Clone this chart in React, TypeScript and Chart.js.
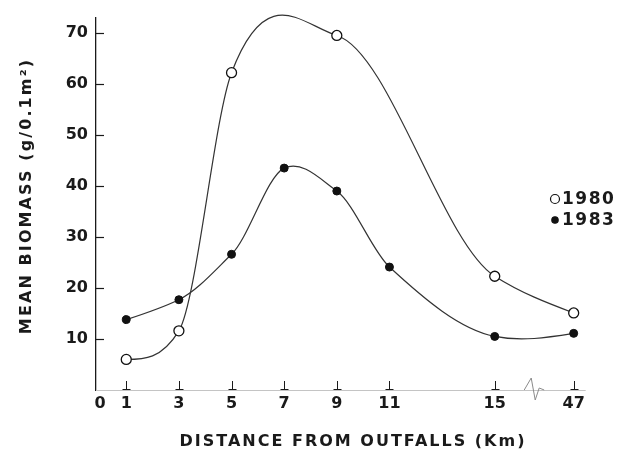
import { useEffect, useRef } from "react";
import { Chart, registerables } from "chart.js";

Chart.register(...registerables);

// ---- data ----
const distances = [1, 3, 5, 7, 9, 11, 15, 47];
const biomass1980: (number | null)[] = [6.0, 11.6, 62.2, null, 69.5, null, 22.3, 15.1];
const biomass1983: (number | null)[] = [13.8, 17.7, 26.6, 43.5, 39.0, 24.1, 10.5, 11.1];
const seriesLabels = ["1980", "1983"];
const xTickDistances = [0, 1, 3, 5, 7, 9, 11, 15, 47];
const yTickValues = [10, 20, 30, 40, 50, 60, 70];
const xTitle = "DISTANCE FROM OUTFALLS (Km)";
const yTitle = "MEAN BIOMASS (g/0.1m²)";

// broken x axis: everything beyond 15 km is drawn at axis position 18
const BREAK_AT = 15;
const BREAK_POS = 18;
const toAxis = (d: number) => (d <= BREAK_AT ? d : BREAK_POS);
const labelFor = (pos: number) => {
  const d = xTickDistances.find((v) => Math.abs(toAxis(v) - pos) < 1e-6);
  return d === undefined ? "" : String(d);
};

const FONT = '"DejaVu Sans", "Liberation Sans", sans-serif';
const INK = "#1a1a1a";
const LINE = "#333333";
const SMOOTH_TENSION = 0.78;

function points(values: (number | null)[]) {
  const out: { x: number; y: number }[] = [];
  values.forEach((v, i) => {
    if (v !== null) out.push({ x: toAxis(distances[i]), y: v });
  });
  return out;
}

// smooth the library's line: cubic Hermite control points along x
// (3-point derivative, overshoot guard against the previous segment, natural ends)
const smoothPlugin = {
  id: "smoothX",
  beforeDatasetsDraw(chart: any) {
    chart.data.datasets.forEach((_ds: any, di: number) => {
      const meta = chart.getDatasetMeta(di);
      const line = meta.dataset;
      if (line && line.updateControlPoints) line.updateControlPoints(chart.chartArea, "x");
      const pts = meta.data;
      const n = pts.length;
      if (n < 3) return;
      const h: number[] = [];
      const d: number[] = [];
      for (let i = 0; i < n - 1; i++) {
        h.push(pts[i + 1].x - pts[i].x);
        d.push((pts[i + 1].y - pts[i].y) / h[i]);
      }
      const m: number[] = new Array(n).fill(0);
      for (let i = 1; i < n - 1; i++) {
        let s = ((h[i] * d[i - 1] + h[i - 1] * d[i]) / (h[i - 1] + h[i])) * SMOOTH_TENSION;
        if (Math.sign(d[i - 1]) === Math.sign(s) && Math.abs(s) > 3 * Math.abs(d[i - 1])) {
          s = 3 * d[i - 1];
        }
        m[i] = s;
      }
      m[0] = (3 * d[0] - m[1]) / 2;
      m[n - 1] = (3 * d[n - 2] - m[n - 2]) / 2;
      for (let i = 0; i < n; i++) {
        const p = pts[i];
        const hPrev = i > 0 ? h[i - 1] : 0;
        const hNext = i < n - 1 ? h[i] : 0;
        p.cp1x = p.x - hPrev / 3;
        p.cp1y = p.y - (m[i] * hPrev) / 3;
        p.cp2x = p.x + hNext / 3;
        p.cp2y = p.y + (m[i] * hNext) / 3;
      }
    });
  },
};

const decorPlugin = {
  id: "decor",
  afterDraw(chart: any) {
    const { ctx, chartArea, scales } = chart;
    const xs = scales.x;
    const ys = scales.y;
    ctx.save();
    // faint x axis line
    ctx.strokeStyle = "#c4c4c4";
    ctx.lineWidth = 1;
    ctx.beginPath();
    ctx.moveTo(chartArea.left, chartArea.bottom + 0.5);
    ctx.lineTo(xs.getPixelForValue(BREAK_POS) + 12, chartArea.bottom + 0.5);
    ctx.stroke();
    // axis-break zigzag
    const bx = (xs.getPixelForValue(BREAK_AT) + xs.getPixelForValue(BREAK_POS)) / 2;
    const by = chartArea.bottom;
    ctx.strokeStyle = "#8a8a8a";
    ctx.beginPath();
    ctx.moveTo(bx - 10, by);
    ctx.lineTo(bx - 3, by - 12);
    ctx.lineTo(bx + 1, by + 10);
    ctx.lineTo(bx + 5, by - 2);
    ctx.lineTo(bx + 10, by);
    ctx.stroke();

    // y tick marks (pointing inward)
    ctx.strokeStyle = INK;
    ctx.lineWidth = 1.2;
    yTickValues.forEach((v) => {
      const y = Math.round(ys.getPixelForValue(v)) + 0.5;
      ctx.beginPath();
      ctx.moveTo(chartArea.left, y);
      ctx.lineTo(chartArea.left + 8, y);
      ctx.stroke();
    });
    // x tick marks (pointing upward)
    ctx.lineWidth = 1;
    xTickDistances.forEach((dd) => {
      if (dd === 0) return;
      const x = Math.round(xs.getPixelForValue(toAxis(dd))) + 0.5;
      ctx.beginPath();
      ctx.moveTo(x, chartArea.bottom);
      ctx.lineTo(x, chartArea.bottom - 9);
      ctx.moveTo(x - 4, chartArea.bottom - 0.5);
      ctx.lineTo(x + 4, chartArea.bottom - 0.5);
      ctx.stroke();
    });

    // axis titles
    ctx.fillStyle = INK;
    ctx.font = `bold 16px ${FONT}`;
    (ctx as any).letterSpacing = "2px";
    ctx.textAlign = "center";
    ctx.textBaseline = "middle";
    ctx.fillText(xTitle, 353, 442);
    ctx.save();
    ctx.translate(27, 196);
    ctx.rotate(-Math.PI / 2);
    (ctx as any).letterSpacing = "2.1px";
    ctx.font = `bold 16px ${FONT}`;
    ctx.fillText(yTitle, 0, 0);
    ctx.restore();

    // legend
    (ctx as any).letterSpacing = "1.5px";
    ctx.font = `bold 17px ${FONT}`;
    ctx.textAlign = "left";
    chart.data.datasets.forEach((ds: any, i: number) => {
      const cy = 199 + i * 21;
      const cx = 555;
      ctx.beginPath();
      ctx.arc(cx, cy, i === 0 ? 4.5 : 3.2, 0, Math.PI * 2);
      ctx.fillStyle = ds.pointBackgroundColor;
      ctx.fill();
      ctx.lineWidth = 1.2;
      ctx.strokeStyle = ds.pointBorderColor;
      ctx.stroke();
      ctx.fillStyle = INK;
      ctx.fillText(ds.label, 562, cy + 1);
    });
    ctx.restore();
  },
};

export default function App() {
  const ref = useRef<HTMLCanvasElement | null>(null);
  useEffect(() => {
    if (!ref.current) return;
    const chart = new Chart(ref.current, {
      type: "line",
      data: {
        datasets: [
          {
            label: seriesLabels[0],
            data: points(biomass1980),
            borderColor: LINE,
            borderWidth: 1.2,
            tension: 0.4,
            clip: false,
            pointRadius: 5,
            pointBackgroundColor: "#ffffff",
            pointBorderColor: "#111111",
            pointBorderWidth: 1.3,
            fill: false,
          },
          {
            label: seriesLabels[1],
            data: points(biomass1983),
            borderColor: LINE,
            borderWidth: 1.2,
            tension: 0.4,
            clip: false,
            pointRadius: 4,
            pointBackgroundColor: "#111111",
            pointBorderColor: "#111111",
            pointBorderWidth: 1,
            fill: false,
          },
        ],
      },
      options: {
        responsive: false,
        animation: false,
        layout: { padding: { top: 15, right: 29, left: 0, bottom: 0 } },
        plugins: { legend: { display: false }, tooltip: { enabled: false } },
        scales: {
          x: {
            type: "linear",
            min: -0.15,
            max: 19,
            grid: { display: false, drawTicks: false },
            border: { display: false },
            afterFit: (s: any) => {
              s.height = 61;
            },
            afterBuildTicks: (s: any) => {
              s.ticks = xTickDistances.map((dd) => ({ value: toAxis(dd) }));
            },
            ticks: {
              autoSkip: false,
              maxRotation: 0,
              padding: 4,
              color: INK,
              font: { family: FONT, size: 16, weight: "bold" },
              callback: (v: any) => labelFor(Number(v)),
            },
          },
          y: {
            type: "linear",
            min: 0,
            max: 73,
            grid: { display: false, drawTicks: false },
            border: { display: true, color: INK, width: 1.3 },
            afterFit: (s: any) => {
              s.width = 96;
            },
            afterBuildTicks: (s: any) => {
              s.ticks = yTickValues.map((v) => ({ value: v }));
            },
            ticks: {
              autoSkip: false,
              padding: 8,
              color: INK,
              font: { family: FONT, size: 16, weight: "bold" },
            },
          },
        },
      },
      plugins: [smoothPlugin, decorPlugin],
    } as any);
    return () => chart.destroy();
  }, []);
  return (
    <div style={{ position: "absolute", left: 0, top: 0, width: 629, height: 451, background: "#fff" }}>
      <canvas ref={ref} width={629} height={451} style={{ width: 629, height: 451, display: "block" }} />
    </div>
  );
}
